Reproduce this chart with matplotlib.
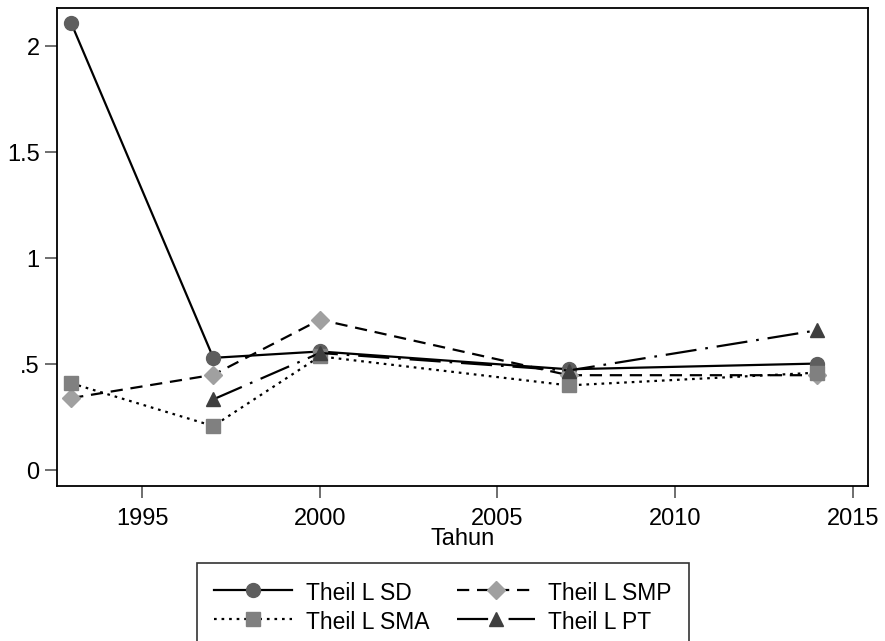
import matplotlib
matplotlib.use("Agg")
import matplotlib.pyplot as plt

plt.rcParams['font.family'] = ['Liberation Sans', 'DejaVu Sans']

years_sd = [1993, 1997, 2000, 2007, 2014]
sd = [2.11, 0.53, 0.56, 0.476, 0.503]
years_smp = [1993, 1997, 2000, 2007, 2014]
smp = [0.34, 0.45, 0.71, 0.448, 0.448]
years_sma = [1993, 1997, 2000, 2007, 2014]
sma = [0.41, 0.208, 0.537, 0.40, 0.46]
years_pt = [1997, 2000, 2007, 2014]
pt = [0.334, 0.553, 0.47, 0.66]

xticks = [1995, 2000, 2005, 2010, 2015]
yticks = [0, 0.5, 1, 1.5, 2]
ylabels = ["0", ".5", "1", "1.5", "2"]

fig = plt.figure(figsize=(8.85, 6.41), dpi=100)
ax = fig.add_axes([57/885, 1-486/641, (868-57)/885, (486-8.3)/641])

lw = 1.6
ax.plot(years_sd, sd, color='black', lw=lw, ls='-', marker='o', ms=10,
        mfc='#5e5e5e', mec='#5e5e5e', label='Theil L SD')
ax.plot(years_smp, smp, color='black', lw=lw, ls=(0, (5.5, 3.5)), marker='D', ms=9,
        mfc='#a0a0a0', mec='#a0a0a0', label='Theil L SMP')
ax.plot(years_sma, sma, color='black', lw=lw, ls=(0, (1.2, 2.2)), marker='s', ms=9.5,
        mfc='#808080', mec='#808080', label='Theil L SMA')
ax.plot(years_pt, pt, color='black', lw=lw, ls=(0, (14, 4, 1.2, 4)), marker='^', ms=10.5,
        mfc='#3f3f3f', mec='#3f3f3f', label='Theil L PT')

ax.set_xlim(1992.6, 2015.43)
ax.set_ylim(-0.075, 2.18)
ax.set_xticks(xticks)
ax.set_yticks(yticks)
ax.set_yticklabels(ylabels)
ax.tick_params(axis='both', direction='out', length=8.5, width=1.2, color='#555555',
               labelsize=17)
ax.tick_params(axis='y', pad=4)
ax.tick_params(axis='x', pad=7)
for s in ax.spines.values():
    s.set_linewidth(1.3)
ax.set_xlabel('Tahun', fontsize=17, labelpad=-1)

h, l = ax.get_legend_handles_labels()
order = [0, 2, 1, 3]
leg = fig.legend([h[i] for i in order], [l[i] for i in order], ncol=2,
                 loc='upper center', bbox_to_anchor=(0.5006, 1-563/641),
                 fontsize=16.5, frameon=True, fancybox=False, edgecolor='black',
                 handlelength=3.4, handleheight=1.2, handletextpad=0.6,
                 columnspacing=1.2, borderpad=0.75, labelspacing=0.2,
                 borderaxespad=0)
leg.get_frame().set_linewidth(1.2)

fig.savefig('out.png', dpi=100)
